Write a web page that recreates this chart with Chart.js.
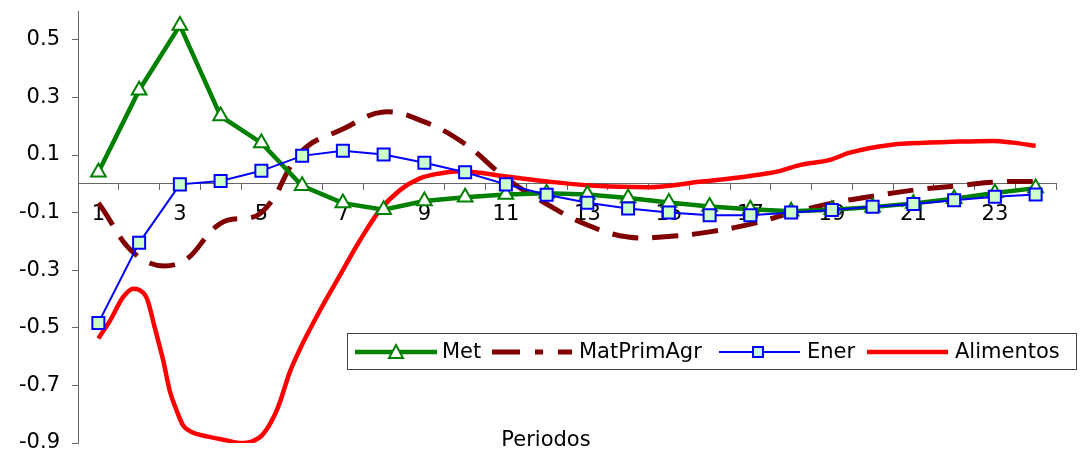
<!DOCTYPE html>
<html>
<head>
<meta charset="utf-8">
<script src="https://cdn.jsdelivr.net/npm/chart.js@4/dist/chart.umd.min.js"></script>
<style>
  html, body { margin: 0; padding: 0; background: #fff; }
  #wrap { width: 1081px; height: 454px; position: relative; }
</style>
</head>
<body>
<div id="wrap"><canvas id="c" width="1081" height="454"></canvas></div>
<script>
// ---- data ----
const periods = ['1','2','3','4','5','6','7','8','9','10','11','12','13','14','15','16','17','18','19','20','21','22','23','24'];
const met = [0.04, 0.325, 0.55, 0.235, 0.142, -0.007, -0.067, -0.09, -0.06, -0.047, -0.037, -0.033, -0.037, -0.049, -0.065, -0.079, -0.088, -0.095, -0.09, -0.081, -0.068, -0.052, -0.032, -0.015];
const matPrimAgr = [-0.067, -0.255, -0.275, -0.137, -0.1, 0.114, 0.19, 0.249, 0.215, 0.138, 0.02, -0.07, -0.143, -0.185, -0.183, -0.167, -0.14, -0.102, -0.067, -0.043, -0.022, -0.008, 0.006, 0.008];
const ener = [-0.483, -0.205, -0.002, 0.01, 0.045, 0.097, 0.115, 0.102, 0.073, 0.04, -0.002, -0.038, -0.066, -0.086, -0.1, -0.109, -0.109, -0.1, -0.091, -0.08, -0.07, -0.057, -0.045, -0.037];
// Alimentos is drawn on a finer time grid (period position, value)
const alimentosT = [1, 1.29, 1.61, 1.86, 1.98, 2.19, 2.39, 2.59, 2.76, 2.92, 3.08, 3.29, 3.66, 4.15, 4.48, 4.76, 5.05, 5.4, 5.7, 5.97, 6.44, 6.93, 7.42, 7.91, 8.4, 8.89, 9.38, 9.87, 10.37, 10.86, 11.35, 12.08, 13.31, 14.46, 15.76, 16.99, 17.73, 18.21, 18.95, 19.44, 20.43, 21.41, 21.97, 22.95, 23.44, 24];
const alimentos = [-0.537, -0.474, -0.393, -0.364, -0.367, -0.398, -0.503, -0.613, -0.723, -0.787, -0.839, -0.862, -0.877, -0.891, -0.9, -0.895, -0.868, -0.779, -0.653, -0.567, -0.439, -0.317, -0.196, -0.091, -0.022, 0.019, 0.036, 0.044, 0.038, 0.028, 0.019, 0.007, -0.008, -0.012, 0.007, 0.027, 0.045, 0.065, 0.083, 0.108, 0.135, 0.143, 0.146, 0.149, 0.143, 0.132];
const yTickValues = [-0.9, -0.7, -0.5, -0.3, -0.1, 0.1, 0.3, 0.5];
const seriesNames = ['Met', 'MatPrimAgr', 'Ener', 'Alimentos'];
const xTitle = 'Periodos';

const FONT = 'DejaVu Sans';
Chart.defaults.font.family = FONT;
Chart.defaults.font.size = 21;
Chart.defaults.color = '#000';

const legendPlugin = {
  id: 'boxLegend',
  afterDraw(chart) {
    const ctx = chart.ctx;
    ctx.save();
    ctx.fillStyle = '#fff';
    ctx.fillRect(347.5, 333.5, 729, 36);
    ctx.strokeStyle = '#444';
    ctx.lineWidth = 1;
    ctx.strokeRect(347.5, 333.5, 729, 36);
    const y = 352;
    const ds = chart.data.datasets;
    ctx.font = '21px "' + FONT + '"';
    ctx.textBaseline = 'middle';
    ctx.textAlign = 'left';
    // Met
    ctx.strokeStyle = ds[0].borderColor; ctx.lineWidth = 4.5; ctx.setLineDash([]);
    ctx.beginPath(); ctx.moveTo(355, y); ctx.lineTo(437, y); ctx.stroke();
    ctx.fillStyle = '#fff'; ctx.lineWidth = 2;
    ctx.beginPath(); ctx.moveTo(396, y - 7); ctx.lineTo(403, y + 6); ctx.lineTo(389, y + 6); ctx.closePath();
    ctx.fill(); ctx.stroke();
    ctx.fillStyle = '#000'; ctx.fillText(seriesNames[0], 442, y + 1);
    // MatPrimAgr
    ctx.strokeStyle = ds[1].borderColor; ctx.lineWidth = 5; ctx.setLineDash([28, 15, 8, 15]);
    ctx.beginPath(); ctx.moveTo(492, y); ctx.lineTo(572, y); ctx.stroke();
    ctx.setLineDash([]);
    ctx.fillStyle = '#000'; ctx.fillText(seriesNames[1], 579, y + 1);
    // Ener
    ctx.strokeStyle = ds[2].borderColor; ctx.lineWidth = 2;
    ctx.beginPath(); ctx.moveTo(719, y); ctx.lineTo(800, y); ctx.stroke();
    ctx.fillStyle = ds[2].pointBackgroundColor;
    ctx.fillRect(753, y - 5, 10, 10); ctx.strokeRect(753, y - 5, 10, 10);
    ctx.fillStyle = '#000'; ctx.fillText(seriesNames[2], 807, y + 1);
    // Alimentos
    ctx.strokeStyle = ds[3].borderColor; ctx.lineWidth = 4.5;
    ctx.beginPath(); ctx.moveTo(867, y); ctx.lineTo(948, y); ctx.stroke();
    ctx.fillStyle = '#000'; ctx.fillText(seriesNames[3], 955, y + 1);
    // axis title
    ctx.textAlign = 'center';
    ctx.fillText(xTitle, 546, 441);
    ctx.restore();
  }
};

new Chart(document.getElementById('c'), {
  type: 'line',
  data: {
    labels: periods,
    datasets: [
      {
        label: seriesNames[0], data: met,
        borderColor: '#008000', borderWidth: 4.5, tension: 0,
        pointStyle: 'triangle', pointRadius: 8.5, pointBorderWidth: 2,
        pointBackgroundColor: '#fff', pointBorderColor: '#008000', order: 2
      },
      {
        label: seriesNames[1], data: matPrimAgr,
        borderColor: '#800000', borderWidth: 5, borderDash: [26, 14], tension: 0.4,
        pointRadius: 0, order: 3
      },
      {
        label: seriesNames[2], data: ener,
        borderColor: '#0000ff', borderWidth: 2, tension: 0,
        pointStyle: 'rect', pointRadius: 8.5, pointBorderWidth: 2,
        pointBackgroundColor: '#ccffcc', pointBorderColor: '#0000ff', order: 1
      },
      {
        label: seriesNames[3], data: alimentosT.map((t, i) => ({ x: t, y: alimentos[i] })),
        xAxisID: 'x2', borderColor: '#ff0000', borderWidth: 4.5,
        cubicInterpolationMode: 'monotone', pointRadius: 0, order: 4
      }
    ]
  },
  options: {
    responsive: false,
    animation: false,
    devicePixelRatio: 1,
    layout: { padding: { left: 0, right: 25, top: 11, bottom: 11 } },
    plugins: { legend: { display: false }, tooltip: { enabled: false } },
    scales: {
      x: {
        type: 'category',
        position: { y: 0 },
        offset: true,
        grid: { offset: true, drawOnChartArea: false, drawTicks: true, tickLength: 6, color: '#666', lineWidth: 1 },
        border: { display: true, color: '#666', width: 1 },
        ticks: {
          autoSkip: false, maxRotation: 0, padding: 12,
          callback: function(val, idx) { return idx % 2 === 0 ? periods[idx] : ''; }
        },
        afterFit(scale) { scale.height = 0; scale.paddingLeft = 0; scale.paddingRight = 0; }
      },
      x2: {
        type: 'linear', min: 0.5, max: 24.5, display: false
      },
      y: {
        type: 'linear', min: -0.9, max: 0.6,
        grid: { drawOnChartArea: false, drawTicks: true, tickLength: 6, color: '#666' },
        border: { display: true, color: '#666', width: 1 },
        ticks: { padding: 12, callback: v => v.toFixed(1) },
        afterBuildTicks(scale) { scale.ticks = yTickValues.map(v => ({ value: v })); },
        afterFit(scale) { scale.width = 78; scale.paddingTop = 0; scale.paddingBottom = 0; }
      }
    }
  },
  plugins: [legendPlugin]
});
</script>
</body>
</html>
